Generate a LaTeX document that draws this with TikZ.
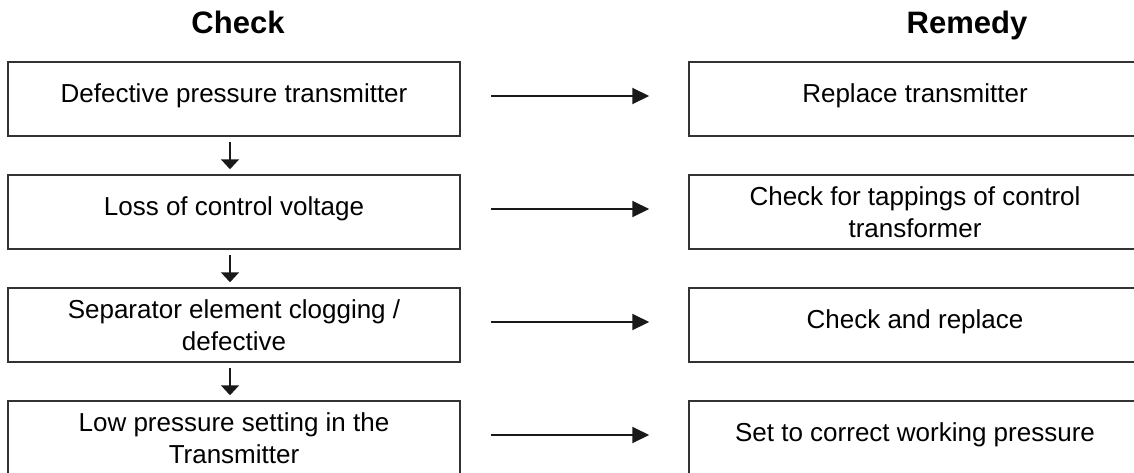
\documentclass[tikz,border=0pt]{standalone}
\usepackage{fontspec}
\setmainfont{Liberation Sans}
\usetikzlibrary{arrows.meta}

\begin{document}
\begin{tikzpicture} %Diagrama 1
      [
      x=1pt, y=-1pt,
      box/.style={draw=black!80, line width=1.5pt, minimum width=452pt, minimum height=74pt, inner sep=0pt, align=center, font=\fontsize{26}{32}\selectfont},
      oneline/.style={text height=13pt, text depth=7pt},
      title/.style={anchor=base, font=\fontsize{31}{36}\selectfont\bfseries},
      arr/.style={line width=2pt, -{Triangle[length=17pt, width=16pt]}},
      darr/.style={line width=2pt, -{Triangle[length=10pt, width=18pt]}}
      ]
      \useasboundingbox (0,0) rectangle (1134,472);
      \node[title] (check) at (238,33) {Check};
      \node[title] (remedy) at (967,33) {Remedy};
      \node[box, oneline] (c1) at (234,99) {Defective pressure transmitter};
      \node[box, oneline] (c2) at (234,212) {Loss of control voltage};
      \node[box] (c3) at (234,325) {Separator element clogging /\\defective};
      \node[box] (c4) at (234,438) {Low pressure setting in the\\Transmitter};
      \node[box, oneline] (r1) at (915,99) {Replace transmitter};
      \node[box] (r2) at (915,212) {Check for tappings of control\\transformer};
      \node[box, oneline] (r3) at (915,325) {Check and replace};
      \node[box, oneline] (r4) at (915,438) {Set to correct working pressure};
      \begin{scope}[black!90]
        \draw[darr] ([xshift=-4pt, yshift=-5pt]c1.south) -- ([xshift=-4pt, yshift=5pt]c2.north);
        \draw[darr] ([xshift=-4pt, yshift=-5pt]c2.south) -- ([xshift=-4pt, yshift=5pt]c3.north);
        \draw[darr] ([xshift=-4pt, yshift=-5pt]c3.south) -- ([xshift=-4pt, yshift=5pt]c4.north);
      \end{scope}
      \begin{scope}[black!90]
        \draw[arr] ([xshift=30pt, yshift=3pt]c1.east) -- ([xshift=-39pt, yshift=3pt]r1.west);
        \draw[arr] ([xshift=30pt, yshift=3pt]c2.east) -- ([xshift=-39pt, yshift=3pt]r2.west);
        \draw[arr] ([xshift=30pt, yshift=3pt]c3.east) -- ([xshift=-39pt, yshift=3pt]r3.west);
        \draw[arr] ([xshift=30pt, yshift=3pt]c4.east) -- ([xshift=-39pt, yshift=3pt]r4.west);
      \end{scope}
\end{tikzpicture}
\end{document}
